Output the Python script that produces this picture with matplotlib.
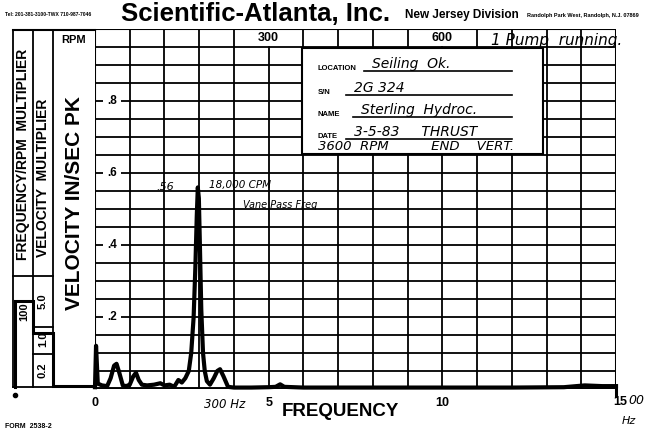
import matplotlib.pyplot as plt
from matplotlib.patches import Rectangle

# spectrum trace: frequency in 100 Hz units, velocity in in/sec pk
freq = [0.0, 0.03, 0.08, 0.2, 0.35, 0.45, 0.55, 0.62, 0.7, 0.8, 0.9, 1.0, 1.1,
        1.18, 1.26, 1.35, 1.5, 1.7, 1.88, 2.0, 2.15, 2.28, 2.4, 2.5, 2.6, 2.7,
        2.77, 2.84, 2.89, 2.93, 2.96, 2.99, 3.02, 3.06, 3.11, 3.16, 3.22, 3.31,
        3.42, 3.52, 3.6, 3.7, 3.83, 4.0, 4.5, 5.0, 5.2, 5.33, 5.45, 6.0, 8.0,
        10.0, 12.0, 13.5, 14.1, 14.6, 15.0]
vel = [0.005, 0.12, 0.015, 0.01, 0.008, 0.03, 0.065, 0.07, 0.045, 0.01, 0.008,
       0.012, 0.035, 0.045, 0.025, 0.012, 0.01, 0.012, 0.016, 0.01, 0.012,
       0.006, 0.025, 0.018, 0.03, 0.05, 0.1, 0.2, 0.34, 0.48, 0.56, 0.53, 0.4,
       0.22, 0.1, 0.05, 0.022, 0.012, 0.03, 0.05, 0.055, 0.035, 0.006, 0.004,
       0.004, 0.005, 0.006, 0.013, 0.006, 0.004, 0.004, 0.004, 0.004, 0.005,
       0.01, 0.008, 0.008]

y_labels = [0.2, 0.4, 0.6, 0.8]
x_labels = {0: "0", 5: "5", 10: "10"}
rpm_cells = [(4, 6, "300"), (9, 11, "600")]
freq_mult = [("100", 312)]
vel_mult = [("5.0", 301), ("1.0", 339), ("0.2", 370)]

W, H = 647, 434
fig = plt.figure(figsize=(W / 100, H / 100), dpi=100)
fig.patch.set_facecolor("white")

L, R, T, B = 95, 616, 29, 389
ax = fig.add_axes([L / W, 1 - B / H, (R - L) / W, (B - T) / H])
ax.set_xlim(0, 15)
ax.set_ylim(0, 1.0)
ax.axis("off")

lw_grid = 1.3
# horizontal grid every .05 up to the RPM header row
for i in range(1, 20):
    ax.plot([0, 15], [i * 0.05, i * 0.05], color="black", lw=lw_grid, zorder=1)
# vertical grid
for i in range(1, 15):
    ax.plot([i, i], [0, 0.95], color="black", lw=lw_grid, zorder=1)
    if i not in (5, 10):
        ax.plot([i, i], [0.95, 1.0], color="black", lw=lw_grid, zorder=1)
ax.plot([0, 15], [1.0, 1.0], color="black", lw=1.5)
ax.plot([0, 0], [0, 1.0], color="black", lw=1.5)
ax.plot([15, 15], [0, 1.0], color="black", lw=2.2)
ax.plot([0, 15], [0, 0], color="black", lw=2.8, solid_capstyle="butt")
ax.plot([15, 15], [0, -0.02], color="black", lw=2.2, clip_on=False)

for a, b, s in rpm_cells:
    ax.text((a + b) / 2, 0.975, s, ha="center", va="center",
            fontsize=9, fontweight="bold", family="Liberation Sans")

for v in y_labels:
    ax.text(0.5, v, "." + str(int(v * 10)), ha="center", va="center",
            fontsize=8.5, fontweight="bold", family="Liberation Sans",
            bbox=dict(facecolor="white", edgecolor="none", pad=3), zorder=3)

ax.plot(freq, vel, color="black", lw=3.0, solid_joinstyle="round", zorder=4,
        clip_on=False)

# overlay in pixel coordinates for the form print and handwriting
ov = fig.add_axes([0, 0, 1, 1])
ov.set_xlim(0, W)
ov.set_ylim(H, 0)
ov.axis("off")

hand = dict(family="DejaVu Sans", style="italic", color="black")
bold = dict(family="Liberation Sans", fontweight="bold", color="black")

# header
ov.text(5, 14, "Tel: 201-381-3100-TWX 710-987-7046", fontsize=3.6, va="center", **bold)
ov.text(121, 14, "Scientific-Atlanta, Inc.", fontsize=18.5, va="center", **bold)
ov.text(405, 15, "New Jersey Division", fontsize=8.5, va="center", **bold)
ov.text(527, 15, "Randolph Park West, Randolph, N.J. 07869", fontsize=4.0, va="center", **bold)

# left multiplier panel
for x in (13, 33, 53):
    ov.plot([x, x], [30, 387], color="black", lw=1.3)
ov.plot([13, 95], [30, 30], color="black", lw=1.5)
ov.plot([13, 53], [276, 276], color="black", lw=1.3)
ov.plot([33, 53], [327, 327], color="black", lw=1.3)
ov.plot([33, 53], [354, 354], color="black", lw=1.3)
ov.plot([13, 53], [387, 387], color="black", lw=1.3)
ov.text(23, 154, "FREQUENCY/RPM  MULTIPLIER", rotation=90, ha="center",
        va="center", fontsize=10, **bold)
ov.text(43, 178, "VELOCITY  MULTIPLIER", rotation=90, ha="center",
        va="center", fontsize=10, **bold)
ov.text(74, 203, "VELOCITY IN/SEC PK", rotation=90, ha="center",
        va="center", fontsize=15, **bold)
ov.text(74, 40, "RPM", ha="center", va="center", fontsize=8, **bold)
for s, y in freq_mult:
    ov.text(24, y, s, rotation=90, ha="center", va="center", fontsize=8, **bold)
for s, y in vel_mult:
    ov.text(43, y, s, rotation=90, ha="center", va="center", fontsize=8, **bold)
# calibration step of the pen
ov.plot([15, 15, 33, 33, 53, 53, 95], [387, 301, 301, 333, 333, 386, 386],
        color="black", lw=2.2, solid_joinstyle="miter")
ov.plot([15], [395], marker="o", color="black", ms=3)

# axis labels
for v, s in x_labels.items():
    ov.text(L + v * (R - L) / 15, 403, s, ha="center", va="center", fontsize=9, **bold)
ov.text(620, 402, "15", ha="center", va="center", fontsize=9, **bold)
ov.text(636, 400, "00", ha="center", va="center", fontsize=9, **hand)
ov.text(629, 421, "Hz", ha="center", va="center", fontsize=8, **hand)
ov.text(340, 412, "FREQUENCY", ha="center", va="center", fontsize=13.5, **bold)
ov.text(5, 426, "FORM  2538-2", va="center", fontsize=5, **bold)
ov.text(225, 405, "300 Hz", ha="center", va="center", fontsize=8.5, **hand)

# handwritten notes on the peak
ov.text(165, 187, ".56", ha="center", va="center", fontsize=8, **hand)
ov.text(240, 185, "18,000 CPM", ha="center", va="center", fontsize=7.5, **hand)
ov.text(280, 205, "Vane Pass Freq", ha="center", va="center", fontsize=7, **hand)
ov.text(557, 40, "1 Pump  running.", ha="center", va="center", fontsize=11, **hand)

# info label
ov.add_patch(Rectangle((302, 48), 241, 106, facecolor="white", edgecolor="black",
                       lw=1.5, zorder=5))
rows = [("LOCATION", "Seiling  Ok.", 66, 364),
        ("S/N", "2G 324", 90, 346),
        ("NAME", "Sterling  Hydroc.", 112, 353),
        ("DATE", "3-5-83     THRUST", 134, 346)]
for lab, val, y, x0 in rows:
    ov.text(318, y + 2, lab, va="center", fontsize=5.5, zorder=6, **bold)
    ov.plot([x0, 512], [y + 5, y + 5], color="black", lw=1.2, zorder=6)
    ov.text(x0 + 8, y - 2, val, va="center", fontsize=10, zorder=6, **hand)
ov.text(318, 147, "3600  RPM          END    VERT.", va="center", fontsize=9.5,
        zorder=6, **hand)

fig.savefig("out.png", dpi=100, facecolor="white")
